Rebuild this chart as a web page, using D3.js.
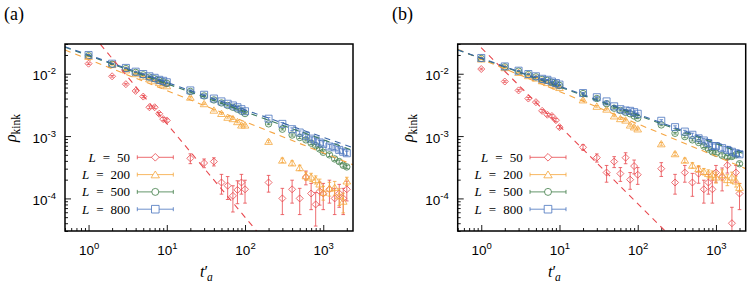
<!DOCTYPE html>
<html>
<head>
<meta charset="utf-8">
<script src="https://cdn.jsdelivr.net/npm/d3@7"></script>
<style>
  body { margin: 0; background: #fff; }
  svg { display: block; font-family: "Liberation Serif", "Times New Roman", Times, serif; }
</style>
</head>
<body>
<div id="chart"></div>
<script>
// waiting times t'_a shared by every series
const tValues = [1, 2, 3, 4, 5, 6, 7, 8, 9, 10,
  20, 30, 40, 50, 60, 70, 80, 90, 100,
  200, 300, 400, 500, 600, 700, 800, 900, 1000,
  1200, 1400, 1600, 1800, 2000];
const sizes = [50, 200, 500, 800];

// panel (a) kink densities
const rhoA50 = [0.0145, 0.0091, 0.0068, 0.0053, 0.0043, 0.0029, 0.0029, 0.00228, 0.00187, 0.00178,
  0.00044, 0.00037, 0.00039, 0.00018, 0.00016, 0.00011, 0.000137, 0.00018, 0.00014,
  0.00018, 0.00010, 0.00014, 0.00010, 0.00022, 0.00012, 0.00008, 0.00013, 0.00012,
  0.00014, 0.00010, 0.00012, 0.00010, 0.00014];
const rhoA200 = [0.0190, 0.0140, 0.0115, 0.0100, 0.0091, 0.0083, 0.0077, 0.0072, 0.0068, 0.0064,
  0.0042, 0.0033, 0.0026, 0.0023, 0.0020, 0.0019, 0.0017, 0.0015, 0.0015,
  0.00082, 0.00041, 0.00037, 0.00031, 0.00023, 0.00022, 0.00020, 0.00017, 0.000125,
  0.000145, 0.00015, 0.00011, 0.00009, 0.00019];
const rhoA500 = [0.0195, 0.0142, 0.0121, 0.0105, 0.0096, 0.0088, 0.0083, 0.0078, 0.0074, 0.0070,
  0.0052, 0.0044, 0.0038, 0.0034, 0.0031, 0.0029, 0.0027, 0.0025, 0.0023,
  0.00157, 0.00129, 0.00104, 0.00095, 0.00087, 0.00077, 0.00070, 0.00062, 0.00055,
  0.00050, 0.00043, 0.00039, 0.00034, 0.00032];
const rhoA800 = [0.0200, 0.0145, 0.0124, 0.0108, 0.0099, 0.0091, 0.0086, 0.0080, 0.0077, 0.0073,
  0.0054, 0.0046, 0.0040, 0.0036, 0.0033, 0.0031, 0.0029, 0.0027, 0.0025,
  0.0019, 0.00157, 0.00129, 0.00114, 0.00101, 0.00091, 0.00085, 0.00079, 0.00075,
  0.00068, 0.00066, 0.00060, 0.00056, 0.00053];

// panel (b) kink densities
const rhoB50 = [0.0119, 0.0075, 0.0054, 0.0040, 0.0035, 0.00254, 0.0022, 0.0021, 0.0018, 0.00139,
  0.00066, 0.00045, 0.00026, 0.00039, 0.00025, 0.00045, 0.00020, 0.00033, 0.00024,
  0.00030, 0.00018, 0.00026, 0.00018, 0.00025, 0.00014, 0.00018, 0.00014, 0.00026,
  0.00022, 0.00034, 0.00004, 0.00026, 0.00012];
const rhoB200 = [0.0172, 0.0125, 0.0105, 0.0093, 0.0085, 0.0077, 0.0072, 0.0068, 0.0064, 0.0060,
  0.0038, 0.0030, 0.0027, 0.0021, 0.0019, 0.0018, 0.0015, 0.0014, 0.0013,
  0.00075, 0.00052, 0.00041, 0.00034, 0.00030, 0.00027, 0.00025, 0.00024, 0.00022,
  0.00024, 0.00020, 0.00022, 0.00019, 0.00015];
const rhoB500 = [0.0176, 0.0129, 0.0110, 0.0097, 0.0089, 0.0081, 0.0078, 0.0073, 0.0069, 0.0065,
  0.0048, 0.0040, 0.0033, 0.0028, 0.00257, 0.0024, 0.00228, 0.0021, 0.00194,
  0.00151, 0.00111, 0.00098, 0.00087, 0.00079, 0.00069, 0.00062, 0.00056, 0.00053,
  0.00049, 0.00046, 0.00047, 0.00050, 0.00036];
const rhoB800 = [0.0179, 0.0131, 0.0112, 0.0099, 0.0091, 0.0083, 0.0080, 0.0075, 0.0071, 0.0067,
  0.0049, 0.0042, 0.0036, 0.0030, 0.0027, 0.00257, 0.00254, 0.00242, 0.00228,
  0.00176, 0.00139, 0.00118, 0.00105, 0.00092, 0.00085, 0.00077, 0.00069, 0.00069,
  0.00064, 0.00060, 0.00056, 0.00053, 0.00051];

// relative error bars
const errA50 = [0.03, 0.03, 0.03, 0.04, 0.04, 0.05, 0.05, 0.05, 0.06, 0.06,
  0.18, 0.16, 0.15, 0.35, 0.4, 0.45, 0.4, 0.35, 0.4,
  0.3, 0.45, 0.4, 0.45, 0.25, 0.45, 0.55, 0.4, 0.45, 0.4, 0.45, 0.4, 0.45, 0.35];
const errA200 = [0.02, 0.02, 0.02, 0.02, 0.02, 0.02, 0.02, 0.02, 0.02, 0.02,
  0.03, 0.03, 0.03, 0.03, 0.03, 0.03, 0.04, 0.04, 0.04,
  0.05, 0.08, 0.08, 0.1, 0.15, 0.15, 0.15, 0.2, 0.25, 0.25, 0.25, 0.3, 0.35, 0.15];
const errA500 = [0.01, 0.01, 0.01, 0.01, 0.01, 0.01, 0.01, 0.01, 0.01, 0.01,
  0.02, 0.02, 0.02, 0.02, 0.02, 0.02, 0.02, 0.02, 0.02,
  0.03, 0.03, 0.04, 0.04, 0.04, 0.05, 0.05, 0.05, 0.05, 0.06, 0.06, 0.06, 0.06, 0.06];
const errA800 = [0.01, 0.01, 0.01, 0.01, 0.01, 0.01, 0.01, 0.01, 0.01, 0.01,
  0.02, 0.02, 0.02, 0.02, 0.02, 0.02, 0.03, 0.03, 0.03,
  0.04, 0.05, 0.05, 0.06, 0.06, 0.07, 0.07, 0.08, 0.08, 0.08, 0.08, 0.08, 0.08, 0.08];
const errB50 = [0.03, 0.03, 0.03, 0.04, 0.04, 0.05, 0.05, 0.05, 0.06, 0.06,
  0.1, 0.15, 0.3, 0.2, 0.25, 0.2, 0.3, 0.25, 0.3,
  0.25, 0.35, 0.3, 0.4, 0.3, 0.4, 0.35, 0.4, 0.3, 0.4, 0.25, 0.8, 0.3, 0.45];
const errB200 = [0.02, 0.02, 0.02, 0.02, 0.02, 0.02, 0.02, 0.02, 0.02, 0.02,
  0.03, 0.03, 0.03, 0.03, 0.03, 0.03, 0.04, 0.04, 0.04,
  0.05, 0.06, 0.08, 0.1, 0.12, 0.12, 0.15, 0.15, 0.2, 0.2, 0.2, 0.2, 0.2, 0.15];
const errB500 = errA500;
const errB800 = errA800;

// dashed power-law fits [prefactor, exponent], one per size
const fitA = [[0.05, -1.5], [0.017, -0.5], [0.0195, -0.45], [0.020, -0.44]];
const fitB = [[0.026, -1.25], [0.0172, -0.52], [0.0175, -0.455], [0.0178, -0.45]];

const xTicks = [1, 10, 100, 1000];
const yTicks = [1e-4, 1e-3, 1e-2];

const colors = ['#e8484e', '#f5a63c', '#3f7c46', '#4a74be'];
const fitColors = ['#e8484e', '#f5a542', '#3a7a5e', '#3a68a8'];

const W = 747, H = 286;
const boxTop = 44, boxBottom = 231, boxW = 288;
const tDomain = [0.5, 2400];
const rhoDomain = [3e-5, 0.03];

const svg = d3.select('#chart').append('svg').attr('width', W).attr('height', H);

function markerPath(i, s) {
  if (i === 0) return `M0,${-s}L${s},0L0,${s}L${-s},0Z`;
  if (i === 1) return `M0,${-s * 0.95}L${s * 1.1},${s * 0.85}L${-s * 1.1},${s * 0.85}Z`;
  if (i === 2) return d3.arc()({ innerRadius: 0, outerRadius: s * 0.92, startAngle: 0, endAngle: 2 * Math.PI });
  return `M${-s},${-s}H${s}V${s}H${-s}Z`;
}

function minorTicks(domain) {
  const out = [];
  for (let d = -6; d <= 4; d++) {
    for (let m = 2; m <= 9; m++) {
      const v = m * Math.pow(10, d);
      if (v >= domain[0] * 0.999 && v <= domain[1]) out.push(v);
    }
  }
  return out;
}

function drawPanel(p) {
  const g = svg.append('g');
  const x = d3.scaleLog().domain(tDomain).range([p.left, p.left + boxW]);
  const y = d3.scaleLog().domain(rhoDomain).range([boxBottom, boxTop]);

  const clipId = 'clip' + p.key;
  svg.append('clipPath').attr('id', clipId)
    .append('rect').attr('x', p.left).attr('y', boxTop)
    .attr('width', boxW).attr('height', boxBottom - boxTop);

  // axes with inward ticks
  const xMinorAxis = g.append('g').attr('transform', `translate(0,${boxBottom})`)
    .call(d3.axisBottom(x).tickValues(minorTicks(tDomain)).tickSize(-3).tickFormat(''));
  const xMajorAxis = g.append('g').attr('transform', `translate(0,${boxBottom})`)
    .call(d3.axisBottom(x).tickValues(xTicks).tickSize(-6).tickFormat(''));
  const yMinorAxis = g.append('g').attr('transform', `translate(${p.left},0)`)
    .call(d3.axisLeft(y).tickValues(minorTicks(rhoDomain)).tickSize(-3).tickFormat(''));
  const yMajorAxis = g.append('g').attr('transform', `translate(${p.left},0)`)
    .call(d3.axisLeft(y).tickValues(yTicks).tickSize(-6).tickFormat(''));
  [xMinorAxis, xMajorAxis, yMinorAxis, yMajorAxis].forEach(a => {
    a.select('.domain').remove();
    a.selectAll('.tick line').attr('stroke', '#000').attr('stroke-width', 0.9);
  });

  xMajorAxis.selectAll('.tick').each(function (d) {
    const t = d3.select(this).append('text')
      .attr('fill', '#000').attr('y', 24).attr('text-anchor', 'middle')
      .attr('font-size', 13.5).attr('dy', 0);
    t.append('tspan').text('10');
    t.append('tspan').attr('font-size', 9.5).attr('dy', -6).text(Math.round(Math.log10(d)));
  });
  yMajorAxis.selectAll('.tick').each(function (d) {
    const t = d3.select(this).append('text')
      .attr('fill', '#000').attr('x', -9).attr('y', 6).attr('text-anchor', 'end')
      .attr('font-size', 13.5).attr('dy', 0);
    t.append('tspan').text('10');
    t.append('tspan').attr('font-size', 9.5).attr('dy', -6).text(Math.round(Math.log10(d)));
  });

  // data
  const dataG = g.append('g').attr('clip-path', `url(#${clipId})`);
  p.series.forEach((vals, i) => {
    const pts = tValues.map((t, j) => ({ t, v: vals[j], e: p.errs[i][j] }));
    const sg = dataG.append('g').attr('stroke', colors[i]).attr('fill', 'none')
      .attr('stroke-opacity', 0.8);
    sg.selectAll('line.bar').data(pts).join('line').attr('class', 'bar')
      .attr('x1', d => x(d.t)).attr('x2', d => x(d.t))
      .attr('y1', d => y(d.v * (1 + d.e))).attr('y2', d => y(Math.max(d.v * (1 - d.e), 1e-6)))
      .attr('stroke-width', 1);
    sg.selectAll('line.capT').data(pts).join('line').attr('class', 'capT')
      .attr('x1', d => x(d.t) - 1.8).attr('x2', d => x(d.t) + 1.8)
      .attr('y1', d => y(d.v * (1 + d.e))).attr('y2', d => y(d.v * (1 + d.e)));
    sg.selectAll('line.capB').data(pts.filter(d => d.e < 0.9)).join('line').attr('class', 'capB')
      .attr('x1', d => x(d.t) - 1.8).attr('x2', d => x(d.t) + 1.8)
      .attr('y1', d => y(d.v * (1 - d.e))).attr('y2', d => y(d.v * (1 - d.e)));
    sg.selectAll('path').data(pts).join('path')
      .attr('transform', d => `translate(${x(d.t)},${y(d.v)})`)
      .attr('d', markerPath(i, 3.5)).attr('stroke-width', 1);
  });

  // dashed fits
  p.fits.forEach((f, i) => {
    const line = d3.line().x(d => x(d)).y(d => y(f[0] * Math.pow(d, f[1])));
    dataG.append('path').datum(tDomain)
      .attr('d', line).attr('fill', 'none').attr('stroke', fitColors[i])
      .attr('stroke-width', 1.1).attr('stroke-dasharray', '6,5');
  });

  // legend
  sizes.forEach((L, i) => {
    const ly = 157.3 + i * 17.3;
    const t = g.append('text').attr('x', p.left + 65).attr('y', ly + 4.5)
      .attr('text-anchor', 'end').attr('font-size', 13);
    t.append('tspan').attr('font-style', 'italic').text('L');
    t.append('tspan').attr('dx', 7).text('=');
    t.append('tspan').attr('dx', 7).text(L);
    const lg = g.append('g').attr('stroke', colors[i]).attr('fill', 'none').attr('stroke-opacity', 0.8);
    const x1 = p.left + 72.3, x2 = p.left + 108.3;
    lg.append('line').attr('x1', x1).attr('x2', x2).attr('y1', ly).attr('y2', ly);
    lg.append('line').attr('x1', x1).attr('x2', x1).attr('y1', ly - 2).attr('y2', ly + 2);
    lg.append('line').attr('x1', x2).attr('x2', x2).attr('y1', ly - 2).attr('y2', ly + 2);
    lg.append('path').attr('transform', `translate(${(x1 + x2) / 2},${ly})`)
      .attr('d', markerPath(i, 3.8)).attr('fill', '#fff');
  });

  // frame
  g.append('rect').attr('x', p.left).attr('y', boxTop).attr('width', boxW)
    .attr('height', boxBottom - boxTop).attr('fill', 'none')
    .attr('stroke', '#000').attr('stroke-width', 1.5);

  // panel tag
  g.append('text').attr('x', p.tagX).attr('y', 20).attr('font-size', 18).text(p.tag);

  // y label
  const yl = g.append('text')
    .attr('transform', `translate(${p.ylabelX},128) rotate(-90)`)
    .attr('text-anchor', 'middle').attr('font-size', 16);
  yl.append('tspan').attr('font-style', 'italic').text('ρ');
  yl.append('tspan').attr('font-size', 11.5).attr('dy', 4).text('kink');

  // x label
  const xl = g.append('text').attr('x', p.xlabelX).attr('y', 277).attr('font-size', 16);
  xl.append('tspan').attr('font-style', 'italic').text('t');
  xl.append('tspan').text('′');
  xl.append('tspan').attr('font-style', 'italic').attr('font-size', 11.5).attr('dy', 4).attr('dx', -1).text('a');
}

drawPanel({ key: 'a', tag: '(a)', tagX: 4, left: 65, ylabelX: 15.5, xlabelX: 200,
  series: [rhoA50, rhoA200, rhoA500, rhoA800], errs: [errA50, errA200, errA500, errA800], fits: fitA });
drawPanel({ key: 'b', tag: '(b)', tagX: 392, left: 457.7, ylabelX: 413, xlabelX: 548,
  series: [rhoB50, rhoB200, rhoB500, rhoB800], errs: [errB50, errB200, errB500, errB800], fits: fitB });
</script>
</body>
</html>
